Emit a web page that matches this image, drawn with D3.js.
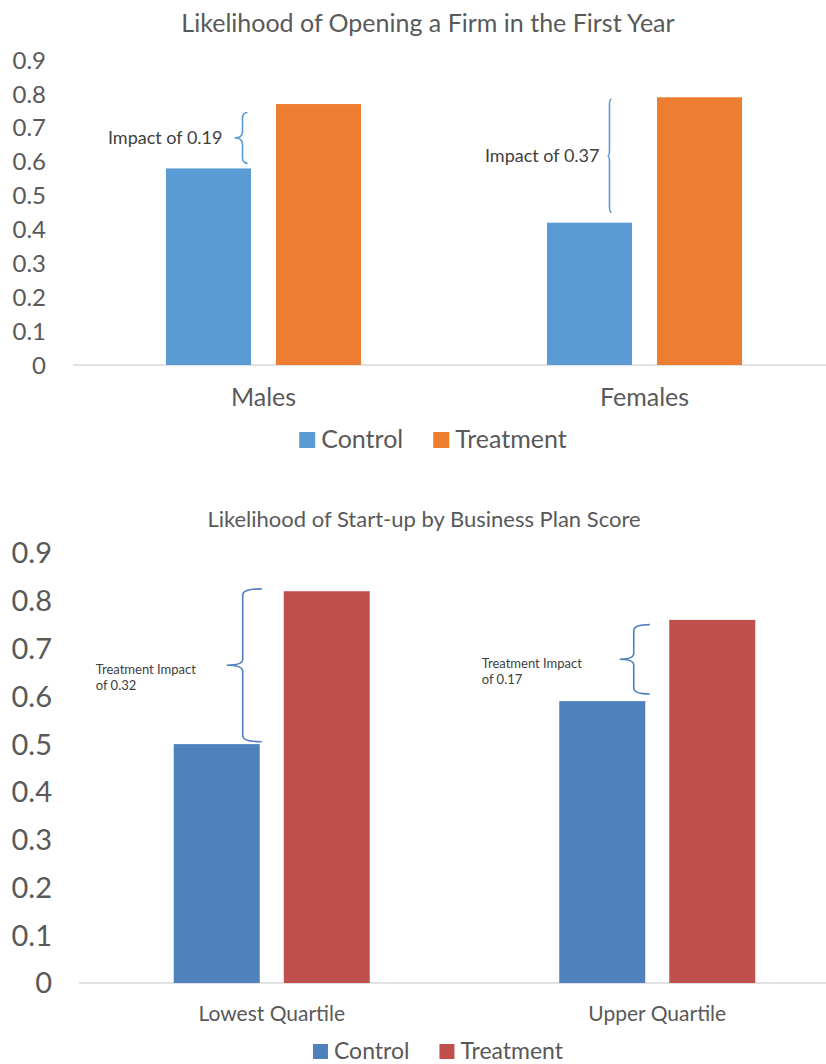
<!DOCTYPE html>
<html>
<head>
<meta charset="utf-8">
<script src="https://cdn.jsdelivr.net/npm/d3@7"></script>
<style>
  body { margin: 0; background: #fff; }
  svg { display: block; font-family: Lato, "Open Sans", sans-serif; }
</style>
</head>
<body>
<svg id="chart" width="826" height="1064"></svg>
<script>
// chart 1 data
const firmCats = ["Males", "Females"]
const firmControl = [0.58, 0.42]
const firmTreatment = [0.77, 0.79]
const firmNotes = ["Impact of 0.19", "Impact of 0.37"]
const firmBraceLow = [0.595, 0.45]
const firmBraceHigh = [0.745, 0.785]

// chart 2 data
const planCats = ["Lowest Quartile", "Upper Quartile"]
const planControl = [0.50, 0.59]
const planTreatment = [0.82, 0.76]
const planNotes = [["Treatment Impact", "of 0.32"], ["Treatment Impact", "of 0.17"]]
const planBraceLow = [0.505, 0.605]
const planBraceHigh = [0.825, 0.75]

const yTicks = [0, 0.1, 0.2, 0.3, 0.4, 0.5, 0.6, 0.7, 0.8, 0.9]
const seriesNames = ["Control", "Treatment"]

const svg = d3.select("#chart")
const textCol = "#595959"

function brace(g, x, y1, y2, ew, nw, color) {
    let ym = (y1 + y2) / 2
    let r = Math.min(6, (y2 - y1) / 4)
    let p = `M${x + ew},${y1} Q${x},${y1} ${x},${y1 + r} L${x},${ym - r} Q${x},${ym} ${x - nw},${ym}` +
            ` Q${x},${ym} ${x},${ym + r} L${x},${y2 - r} Q${x},${y2} ${x + ew},${y2}`
    g.append("path").attr("d", p).attr("fill", "none")
        .attr("stroke", color).attr("stroke-width", 1.6)
    return ym
}

function drawChart(o) {
    let g = svg.append("g")

    let y = d3.scaleLinear().domain([0, 0.9]).range([o.y0, o.y9])
    let x = d3.scaleBand().domain(o.cats).range([o.xl, o.xr])
    let x1 = d3.scaleBand().domain(seriesNames).range([-o.group / 2, o.group / 2]).paddingInner(o.pad)

    g.append("text").attr("x", o.titleX).attr("y", o.titleY)
        .attr("text-anchor", "middle").attr("font-size", o.titleSize)
        .attr("fill", textCol).text(o.title)

    // y labels
    g.selectAll(".ytick").data(yTicks).enter().append("text")
        .attr("x", o.tickX).attr("y", d => y(d))
        .attr("dy", "0.36em")
        .attr("text-anchor", "end").attr("font-size", o.tickSize)
        .attr("fill", textCol)
        .text(d => d3.format("")(d))

    // baseline
    g.append("line").attr("x1", o.xl).attr("x2", 826)
        .attr("y1", y(0)).attr("y2", y(0))
        .attr("stroke", "#d9d9d9").attr("stroke-width", 1.5)

    let rows = o.cats.map((c, i) => ({cat: c, Control: o.control[i], Treatment: o.treatment[i]}))
    let groups = g.selectAll(".grp").data(rows).enter().append("g")
        .attr("transform", d => `translate(${x(d.cat) + x.bandwidth() / 2},0)`)
    groups.selectAll("rect").data(d => seriesNames.map(s => ({s: s, v: d[s]}))).enter().append("rect")
        .attr("x", d => x1(d.s)).attr("width", x1.bandwidth())
        .attr("y", d => y(d.v)).attr("height", d => y(0) - y(d.v))
        .attr("fill", (d, i) => o.colors[i])

    // category labels
    g.selectAll(".cat").data(o.cats).enter().append("text")
        .attr("x", d => x(d) + x.bandwidth() / 2).attr("y", o.catY)
        .attr("text-anchor", "middle").attr("font-size", o.catSize)
        .attr("fill", textCol).text(d => d)

    // braces and notes
    o.cats.forEach((c, i) => {
        let bx = x(c) + x.bandwidth() / 2 + o.braceDx[i]
        let ym = brace(g, bx, y(o.braceHigh[i]), y(o.braceLow[i]), o.braceEw[i], o.braceNw[i], o.colors[0])
        let lines = [].concat(o.notes[i])
        let t = g.append("text").attr("font-size", o.noteSize).attr("fill", "#404040")
            .attr("text-anchor", o.noteAnchor)
        lines.forEach((l, k) => {
            t.append("tspan").attr("x", bx + o.noteDx[i])
                .attr("y", ym + o.noteDy + k * o.noteLead).text(l)
        })
    })

    // legend
    let lg = g.append("g")
    let xx = 0
    seriesNames.forEach((s, i) => {
        lg.append("rect").attr("x", xx).attr("y", o.legY - o.sq)
            .attr("width", o.sq).attr("height", o.sq).attr("fill", o.colors[i])
        let t = lg.append("text").attr("x", xx + o.sq + 6).attr("y", o.legY)
            .attr("font-size", o.legSize).attr("fill", textCol).text(s)
        xx += o.sq + 6 + t.node().getComputedTextLength() + 30
    })
    let w = xx - 30
    lg.attr("transform", `translate(${o.legX - w / 2},0)`)
}

drawChart({
    title: "Likelihood of Opening a Firm in the First Year",
    titleX: 428, titleY: 32, titleSize: 25,
    cats: firmCats, control: firmControl, treatment: firmTreatment,
    colors: ["#5B9BD5", "#ED7D31"],
    y0: 365, y9: 60, xl: 73, xr: 835, group: 195, pad: 0.2273,
    tickX: 46, tickSize: 24,
    catY: 406, catSize: 25,
    notes: firmNotes, braceLow: firmBraceLow, braceHigh: firmBraceHigh,
    braceDx: [-21, -35], braceEw: [5, 2], braceNw: [8, 2],
    noteDx: [-20, -10], noteDy: 6, noteLead: 16, noteSize: 18, noteAnchor: "end",
    legX: 433, legY: 448, legSize: 25, sq: 16
})

drawChart({
    title: "Likelihood of Start-up by Business Plan Score",
    titleX: 424, titleY: 527, titleSize: 22,
    cats: planCats, control: planControl, treatment: planTreatment,
    colors: ["#4F81BD", "#C0504D"],
    y0: 983, y9: 553, xl: 79, xr: 850, group: 196, pad: 0.2182,
    tickX: 52, tickSize: 29,
    catY: 1021, catSize: 21,
    notes: planNotes, braceLow: planBraceLow, braceHigh: planBraceHigh,
    braceDx: [-29, -23.5], braceEw: [19, 16], braceNw: [16, 14],
    noteDx: [-147, -152], noteDy: 9, noteLead: 16, noteSize: 13, noteAnchor: "start",
    legX: 438, legY: 1059, legSize: 23, sq: 15
})
</script>
</body>
</html>
